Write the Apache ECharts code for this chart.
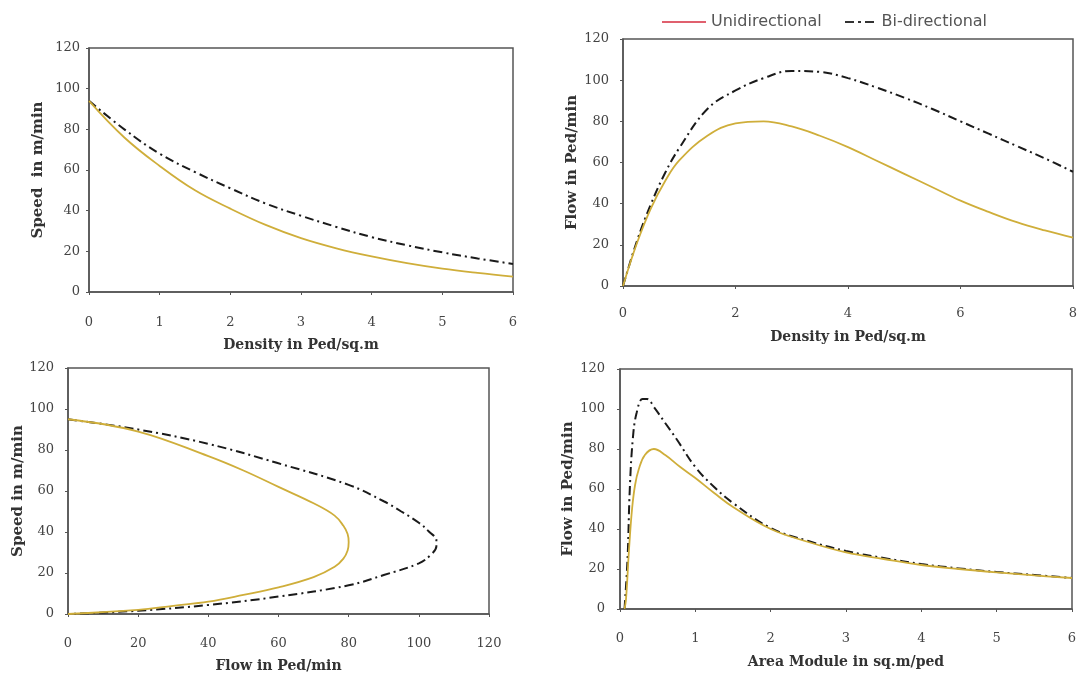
<!DOCTYPE html>
<html><head><meta charset="utf-8">
<script src="https://cdn.jsdelivr.net/npm/echarts@6/dist/echarts.min.js"></script>
<style>html,body{margin:0;padding:0;background:#fff}#c{width:1088px;height:677px}</style>
</head><body><div id="c"></div>
<script>
// Panel 1: Speed vs Density
const p1Density = [0,0.5,1,1.5,2,2.5,3,3.5,4,4.5,5,5.5,6];
const p1UniSpeed = [94,76,62,50,41,33,26.5,21.5,17.5,14.2,11.5,9.4,7.6];
const p1BiSpeed  = [94,80,68,59,51,43.5,37.5,32,27,23,19.5,16.5,13.8];
// Panel 2: Flow vs Density
const p2Density = [0,0.25,0.5,0.75,1,1.5,2,2.5,3,3.5,4,4.5,5,5.5,6,6.5,7,7.5,8];
const p2UniFlow = [0,21,38,51,61,73,79,80,77.5,73,67.5,61,54.5,48,41.5,36,31,27,23.5];
const p2BiFlow  = [0,22,40,55,67,86,95,101,104.5,104,101,96.5,91.5,86,80,74,68,62,55.5];
// Panel 3: Speed vs Flow
const p3UniFlow  = [0,20,40,50,60,70,76,78.5,79.7,80,79.7,78.5,76,70,60,50,40,30,20,0];
const p3UniSpeed = [95,89,77,70,62,54,48,43,39,35,31,27,23,18,13,9.3,6,4,2,0];
const p3BiFlow   = [0,20,40,60,80,90,95,100,103,105,105,103.5,100,90,80,60,40,20,0];
const p3BiSpeed  = [95,90,83,73.5,63,55,50,44.5,40,36,33,29,24.7,19,14,8.5,4.4,1.6,0];
// Panel 4: Flow vs Area Module
const p4UniModule = [0.06,0.08,0.12,0.16,0.2,0.25,0.33,0.45,0.6,0.8,1,1.25,1.5,2,2.5,3,3.5,4,4.5,5,5.5,6];
const p4UniFlow   = [0,5,30,50,62,70,77,80,77,71,65.5,58,51,40,33.5,28.3,25,22,20,18.3,16.8,15.5];
const p4BiModule  = [0.06,0.1,0.13,0.17,0.22,0.3,0.36,0.45,0.6,0.75,1,1.25,1.5,2,2.5,3,3.5,4,4.5,5,5.5,6];
const p4BiFlow    = [0,25,60,85,98,105,105,101,93,85,71,61,53,40.5,34,29,25.5,22.5,20.3,18.5,17,15.5];

const yTicks = [0,20,40,60,80,100,120];

const UNI = 'Unidirectional', BI = 'Bi-directional';
const uniColor = '#cfae3a', biColor = '#1a1a1a';
const FONT = 'DejaVu Serif';

const zip = (a,b) => a.map((v,i)=>[v,b[i]]);

const grids = [
  {left:89, top:48, right:575, bottom:385},
  {left:623, top:39, right:15, bottom:391},
  {left:68, top:368, right:599, bottom:63},
  {left:620, top:369, right:16, bottom:68}
].map(g=>Object.assign(g,{show:true,borderColor:'#555',borderWidth:1.5,containLabel:false}));

function xAx(i,max,interval,name,margin,gap){
  return {type:'value',gridIndex:i,min:0,max:max,interval:interval,
    name:name,nameLocation:'middle',nameGap:gap,
    nameTextStyle:{fontFamily:FONT,fontWeight:'bold',fontSize:14,color:'#333'},
    axisLine:{show:true,onZero:false,lineStyle:{color:'#555',width:1.5}},
    axisTick:{show:true,length:3,lineStyle:{color:'#555'}},
    axisLabel:{margin:margin,fontFamily:FONT,fontSize:13,color:'#444'},
    splitLine:{show:false}};
}
function yAx(i,name,margin,gap){
  return {type:'value',gridIndex:i,min:0,max:120,interval:20,
    name:name,nameLocation:'middle',nameGap:gap,
    nameTextStyle:{fontFamily:FONT,fontWeight:'bold',fontSize:15,color:'#333'},
    axisLine:{show:true,onZero:false,lineStyle:{color:'#555',width:1.5}},
    axisTick:{show:true,length:3,lineStyle:{color:'#555'}},
    axisLabel:{margin:margin,fontFamily:FONT,fontSize:13,color:'#444',
      formatter:v=>yTicks.includes(v)?String(v):''},
    splitLine:{show:false}};
}
function ser(name,i,data){
  const uni = name===UNI;
  return {name:name,type:'line',xAxisIndex:i,yAxisIndex:i,data:data,smooth:0.4,
    showSymbol:false,symbol:'none',silent:true,
    lineStyle:uni?{color:uniColor,width:1.8}:{color:biColor,width:2,type:[9,4,2,4]},
    itemStyle:{color:uni?uniColor:biColor},z:uni?3:2};
}

const legendText = {fontFamily:'DejaVu Sans',fontSize:16,color:'#555'};
const option = {
  animation:false,
  backgroundColor:'#fff',
  legend:[
    {left:657,top:9,itemWidth:44,itemHeight:2,itemGap:0,textStyle:legendText,
     data:[{name:UNI,icon:'path://M0,0H44V2H0Z',itemStyle:{color:'#e0606e'}}]},
    {left:840,top:9,itemWidth:34,itemHeight:2,itemGap:0,textStyle:legendText,
     data:[{name:BI,icon:'path://M0,0H9V2H0Z M13,0H16V2H13Z M20,0H29V2H20Z',itemStyle:{color:'#333'}}]}
  ],
  grid:grids,
  xAxis:[
    xAx(0,6,1,'Density in Ped/sq.m',24,46),
    xAx(1,8,2,'Density in Ped/sq.m',21,44),
    xAx(2,120,20,'Flow in Ped/min',23,45),
    xAx(3,6,1,'Area Module in sq.m/ped',23,46)
  ],
  yAxis:[
    yAx(0,'Speed  in m/min',9,43),
    yAx(1,'Flow in Ped/min',14,43),
    yAx(2,'Speed in m/min',14,38),
    yAx(3,'Flow in Ped/min',15,44)
  ],
  series:[
    ser(UNI,0,zip(p1Density,p1UniSpeed)),
    ser(BI,0,zip(p1Density,p1BiSpeed)),
    ser(UNI,1,zip(p2Density,p2UniFlow)),
    ser(BI,1,zip(p2Density,p2BiFlow)),
    ser(UNI,2,zip(p3UniFlow,p3UniSpeed)),
    ser(BI,2,zip(p3BiFlow,p3BiSpeed)),
    ser(UNI,3,zip(p4UniModule,p4UniFlow)),
    ser(BI,3,zip(p4BiModule,p4BiFlow))
  ]
};
const chart = echarts.init(document.getElementById('c'),null,{renderer:'canvas'});
chart.setOption(option);
</script></body></html>
